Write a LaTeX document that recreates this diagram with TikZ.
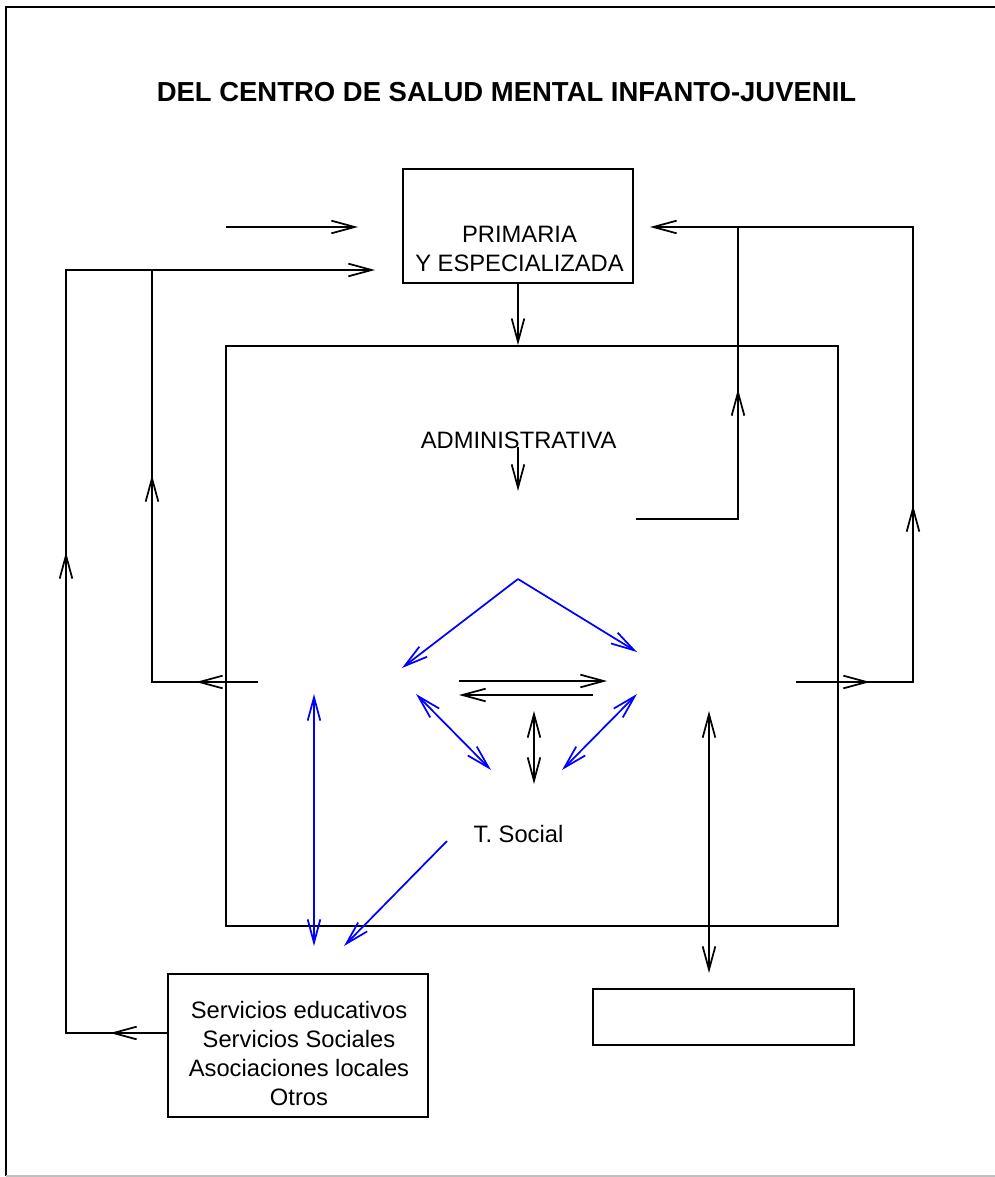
\documentclass[tikz,border=0pt]{standalone}
\usepackage{fontspec}
\setmainfont{Liberation Sans}
\usetikzlibrary{arrows.meta}
\begin{document}
\begin{tikzpicture}[x=0.75pt,y=-0.75pt,
  >={Straight Barb[length=17.5pt,width=9.5pt]},
  ln/.style={line width=1.3pt, black},
  bl/.style={line width=1.3pt, blue},
  box/.style={draw, line width=1.3pt, inner sep=0pt},
  txt/.style={inner sep=0pt, anchor=base, font=\fontsize{17.8}{21}\selectfont},
  ttl/.style={inner sep=0pt, anchor=base, font=\bfseries\fontsize{20.6}{24}\selectfont},
]
\useasboundingbox (0,0) rectangle (995,1177);
% frame
\draw[line width=1.5pt] (6,1176) -- (6,7) -- (995,7);
\draw[line width=1pt, black!25] (6,1176) -- (995,1176);

% title
\node[ttl] (title) at (506.5,102) {DEL CENTRO DE SALUD MENTAL INFANTO-JUVENIL};

% boxes
\node[box, minimum width=172.5pt, minimum height=85.5pt] (prim) at (518,226) {};
\node[txt] (primA) at (519.5,242) {PRIMARIA};
\node[txt] (primB) at (519.5,271) {Y ESPECIALIZADA};

\node[box, minimum width=459pt, minimum height=435pt] (big) at (532,636) {};

\node[box, minimum width=195pt, minimum height=107.25pt] (svc) at (298,1045.5) {};
\node[txt] (svcA) at (299,1018) {Servicios educativos};
\node[txt] (svcB) at (299,1047.5) {Servicios Sociales};
\node[txt] (svcC) at (299,1076.5) {Asociaciones locales};
\node[txt] (svcD) at (299,1105.5) {Otros};

\node[box, minimum width=195.75pt, minimum height=42pt] (empty) at (723.5,1017) {};

% texts inside big box
\node[txt] (admin) at (518.7,448) {ADMINISTRATIVA};
\node[txt] (tsoc) at (518.5,842) {T. Social};

% coordinates
\coordinate (a1s) at (226,227);
\coordinate (a1e) at (358,227);
\coordinate (svcW) at (168,1033);
\coordinate (L1) at (66,1033);
\coordinate (L2) at (66,270);
\coordinate (primW) at (375,270);
\coordinate (Lm1a) at (140,1033); \coordinate (Lm1b) at (110,1033);
\coordinate (Lm2a) at (66,585);   \coordinate (Lm2b) at (66,552);
\coordinate (bigLout) at (258,682);
\coordinate (K1) at (152,682);
\coordinate (K2) at (152,270);
\coordinate (Km1a) at (228,682); \coordinate (Km1b) at (196,682);
\coordinate (Km2a) at (152,508); \coordinate (Km2b) at (152,475);
\coordinate (adminE) at (636,519);
\coordinate (R1) at (738,519);
\coordinate (R2) at (738,227);
\coordinate (Rm1a) at (738,422); \coordinate (Rm1b) at (738,389);
\coordinate (bigRout) at (796,682);
\coordinate (Q1) at (913,682);
\coordinate (Q2) at (913,227);
\coordinate (primE) at (650,227);
\coordinate (Qm1a) at (838,682); \coordinate (Qm1b) at (870,682);
\coordinate (Qm2a) at (913,538); \coordinate (Qm2b) at (913,505);
\coordinate (adminS) at (518,447);
\coordinate (adminT) at (518,491);
\coordinate (apex) at (518,579);
\coordinate (bL) at (402,668);
\coordinate (bR) at (637,652);
\coordinate (h1s) at (459,681); \coordinate (h1e) at (607,681);
\coordinate (h2s) at (593,695); \coordinate (h2e) at (459,695);
\coordinate (dL1) at (416,694); \coordinate (dL2) at (491,770);
\coordinate (dR1) at (637,694); \coordinate (dR2) at (562,770);
\coordinate (v1) at (534,711); \coordinate (v2) at (534,784);
\coordinate (bv1) at (314,694); \coordinate (bv2) at (314,946);
\coordinate (ts1) at (447,841); \coordinate (ts2) at (344,946);
\coordinate (rv1) at (709,711); \coordinate (rv2) at (709,973);

% black connectors
\draw[ln,->] (a1s) -- (a1e);
\draw[ln,->] (svcW) -- (L1) -- (L2) -- (primW);
\draw[ln,->] (Lm1a) -- (Lm1b);
\draw[ln,->] (Lm2a) -- (Lm2b);
\draw[ln] (bigLout) -- (K1) -- (K2);
\draw[ln,->] (Km1a) -- (Km1b);
\draw[ln,->] (Km2a) -- (Km2b);
\draw[ln,->] (prim.south) -- (prim.south |- big.north);
\draw[ln,->] (adminS) -- (adminT);
\draw[ln] (adminE) -- (R1) -- (R2);
\draw[ln,->] (Rm1a) -- (Rm1b);
\draw[ln,->] (bigRout) -- (Q1) -- (Q2) -- (primE);
\draw[ln,->] (Qm1a) -- (Qm1b);
\draw[ln,->] (Qm2a) -- (Qm2b);
\draw[ln,->] (h1s) -- (h1e);
\draw[ln,->] (h2s) -- (h2e);
\draw[ln,<->] (v1) -- (v2);
\draw[ln,<->] (rv1) -- (rv2);

% blue connectors
\draw[bl,->] (apex) -- (bL);
\draw[bl,->] (apex) -- (bR);
\draw[bl,<->] (dL1) -- (dL2);
\draw[bl,<->] (dR1) -- (dR2);
\draw[bl,<->] (bv1) -- (bv2);
\draw[bl,->] (ts1) -- (ts2);
\end{tikzpicture}
\end{document}
